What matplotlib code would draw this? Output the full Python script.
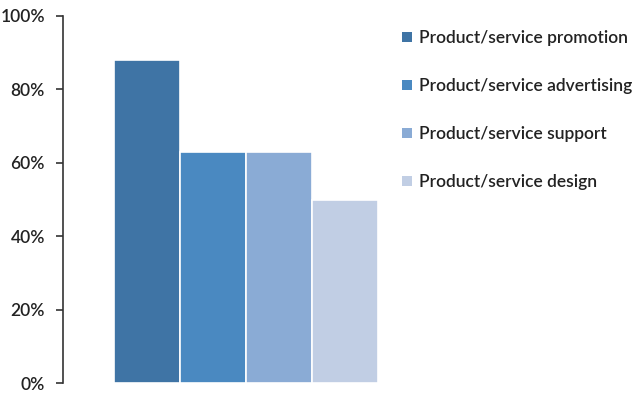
import matplotlib
matplotlib.use("Agg")
import matplotlib.pyplot as plt
from matplotlib.patches import Patch

plt.rcParams['font.family'] = ['Lato', 'DejaVu Sans']
plt.rcParams['font.weight'] = 'semibold'

# shares of respondents per activity
labels = ['Product/service promotion', 'Product/service advertising',
          'Product/service support', 'Product/service design']
shares = [88, 63, 63, 50]
colors = ['#3f74a5', '#4a89c1', '#8aabd5', '#c1cee4']
yticks = [0, 20, 40, 60, 80, 100]

fig = plt.figure(figsize=(6.32, 3.97), dpi=100)
ax = fig.add_axes([63 / 632, 1 - 383 / 397, 329 / 632, 367 / 397])

xpos = list(range(len(shares)))
ax.bar(xpos, shares, width=1.0, color=colors, edgecolor='white', linewidth=1.2)

ax.set_xlim(-1.27, 3.71)
ax.set_ylim(0, 100)
ax.set_yticks(yticks)
ax.set_yticklabels([f'{v}%' for v in yticks], fontsize=12.5, color='#222222')
ax.set_xticks([])
for side in ['top', 'right', 'bottom']:
    ax.spines[side].set_visible(False)
ax.spines['left'].set_color('#333333')
ax.spines['left'].set_linewidth(1.2)
ax.tick_params(axis='y', direction='out', length=5, width=1.2, color='#333333', pad=8)

handles = [Patch(facecolor=c, edgecolor='none') for c in colors]
fig.legend(handles, labels, loc='upper left', bbox_to_anchor=(402 / 632, 1 - 30 / 397),
           frameon=False, fontsize=12.5, labelspacing=1.85, handlelength=0.55,
           handleheight=0.55, handletextpad=0.45, borderaxespad=0, borderpad=0,
           labelcolor='#222222')

fig.savefig('out.png', dpi=100)
